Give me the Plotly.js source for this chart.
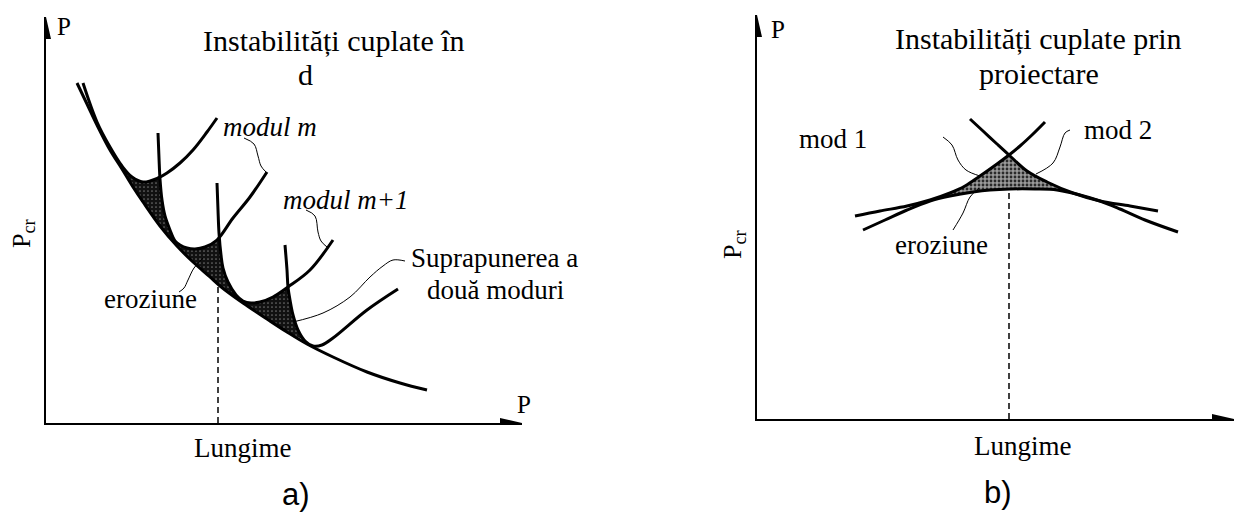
<!DOCTYPE html>
<html>
<head>
<meta charset="utf-8">
<script src="https://cdn.plot.ly/plotly-3.0.1.min.js"></script>
<style>
  html, body { margin: 0; padding: 0; background: #ffffff; }
  #chart { width: 1234px; height: 513px; }
</style>
</head>
<body>
<div id="chart"></div>
<script>
// ---------- Panel a) : instabilities coupled in design, modes m, m+1, ... ----------
// Lower bound of the coupled buckling load (eroded envelope)
const envelopeX = [31, 41, 51, 64, 76, 87, 97, 114, 131, 147, 164, 174, 197, 221, 241, 261, 287, 321, 354, 381];
const envelopeY = [340, 319, 298, 273, 254, 236, 221, 197, 177, 161, 146, 137, 120, 104, 91, 79, 66, 51, 40, 33];

// Individual buckling modes (steep branch, minimum, rising branch)
const mode1X = [37, 51, 64, 76, 86, 97, 112, 121, 134, 147, 161, 171];
const mode1Y = [340, 301, 276, 257, 246, 241, 245, 250, 260, 273, 291, 305];
const mode2X = [112, 113, 114, 116, 119, 124, 129, 134, 141, 149, 159, 171, 187, 204, 221];
const mode2Y = [290, 265, 244, 223, 207, 193, 182, 178, 175, 174, 176, 183, 205, 226, 251];
const mode3X = [171, 172, 173, 175, 177, 182, 190, 197, 205, 214, 227, 242, 264, 287];
const mode3Y = [240, 213, 190, 168, 155, 141, 128, 122, 120, 121, 126, 136, 153, 183];
const mode4X = [239, 241, 242, 244, 247, 252, 259, 267, 276, 287, 321, 352];
const mode4Y = [178, 153, 136, 123, 108, 93, 82, 77, 78, 85, 113, 134];

// Erosion zones between two neighbouring modes and the envelope
const erosionA1X = [76, 86, 97, 106, 113, 116, 119, 124, 130, 114, 97, 87, 76];
const erosionA1Y = [257, 246, 241, 242, 245, 223, 207, 193, 179, 197, 221, 236, 254];
const erosionA2X = [130, 134, 141, 149, 159, 173, 175, 177, 182, 190, 196, 174, 164, 147, 131];
const erosionA2Y = [179, 178, 175, 174, 176, 184, 168, 155, 141, 128, 121, 137, 146, 161, 177];
const erosionA3X = [196, 205, 214, 227, 242, 244, 247, 252, 258, 241, 221, 209, 197];
const erosionA3Y = [121, 120, 121, 126, 136, 123, 108, 93, 83, 91, 104, 112, 120];

// Leader lines of the labels
const leaderModulMX = [198, 208, 212, 215, 220];
const leaderModulMY = [285, 279, 267, 257, 251];
const leaderModulM1X = [260, 269, 272, 275, 281];
const leaderModulM1Y = [213, 207, 191, 182, 176];
const leaderOverlapX = [359, 347, 337, 324, 304, 277, 247];
const leaderOverlapY = [162, 163, 157, 146, 126, 110, 101];
const leaderErosionAX = [133, 138, 142, 148, 157];
const leaderErosionAY = [131, 135, 143, 155, 165];

// Length at which the modes interact
const dashedAX = [172, 172];
const dashedAY = [0, 137];

// ---------- Panel b) : instabilities coupled by design ----------
const mod1X = [98, 123, 150, 173, 193, 208, 223, 240, 252, 263, 276, 288];
const mod1Y = [203, 208, 213, 219, 226, 233, 243, 255, 264, 273, 285, 297];
const mod2X = [213, 226, 240, 252, 270, 290, 316, 343, 373, 401];
const mod2Y = [300, 288, 275, 264, 248, 237, 226, 218, 213, 208];
const humpX = [106, 128, 150, 173, 193, 216, 233, 253, 278, 300, 323, 343, 363, 388, 421];
const humpY = [189, 199, 209, 218, 223, 227, 229, 230, 230, 229, 224, 218, 210, 199, 187];

const erosionBX = [252, 240, 223, 208, 193, 183, 193, 216, 233, 253, 278, 300, 323, 335, 316, 290, 270, 252];
const erosionBY = [264, 255, 243, 233, 226, 222, 223, 227, 229, 230, 230, 229, 224, 221, 226, 237, 248, 264];

const leaderMod1X = [186, 195, 201, 209, 223];
const leaderMod1Y = [282, 274, 259, 249, 243];
const leaderMod2X = [313, 308, 303, 296, 279];
const leaderMod2Y = [289, 286, 272, 256, 245];
const leaderErosionBX = [196, 206, 213, 222];
const leaderErosionBY = [189, 206, 222, 231];

const dashedBX = [252, 252];
const dashedBY = [0, 230];

// Axis extents (arrow tips) in data units
const axisA = { xMax: 476, yMax: 406 };
const axisB = { xMax: 477, yMax: 404 };

// ---------- drawing ----------
const W = 1234, H = 513;
const serif = 'Liberation Serif, Times New Roman, serif';
const sans = 'Liberation Sans, Arial, sans-serif';

function curve(x, y, xa, ya, width) {
  return { x: x, y: y, xaxis: xa, yaxis: ya, type: 'scatter', mode: 'lines',
           line: { color: '#000', width: width, shape: 'spline', smoothing: 1 },
           hoverinfo: 'skip', showlegend: false };
}
function leader(x, y, xa, ya) {
  return curve(x, y, xa, ya, 1);
}
function dashed(x, y, xa, ya) {
  return { x: x, y: y, xaxis: xa, yaxis: ya, type: 'scatter', mode: 'lines',
           line: { color: '#000', width: 1.5, dash: '6px,4px' },
           hoverinfo: 'skip', showlegend: false };
}
function zone(x, y, xa, ya, bg, fg, solidity) {
  return { x: x, y: y, xaxis: xa, yaxis: ya, type: 'scatter', mode: 'lines',
           fill: 'toself', fillcolor: bg,
           fillpattern: { shape: '.', bgcolor: bg, fgcolor: fg, size: 4, solidity: solidity },
           line: { width: 0 }, hoverinfo: 'skip', showlegend: false };
}

const traces = [
  zone(erosionA1X, erosionA1Y, 'x', 'y', '#111111', '#6e6e6e', 0.15),
  zone(erosionA2X, erosionA2Y, 'x', 'y', '#111111', '#6e6e6e', 0.15),
  zone(erosionA3X, erosionA3Y, 'x', 'y', '#111111', '#6e6e6e', 0.15),
  dashed(dashedAX, dashedAY, 'x', 'y'),
  leader(leaderModulMX, leaderModulMY, 'x', 'y'),
  leader(leaderModulM1X, leaderModulM1Y, 'x', 'y'),
  leader(leaderOverlapX, leaderOverlapY, 'x', 'y'),
  leader(leaderErosionAX, leaderErosionAY, 'x', 'y'),
  curve(envelopeX, envelopeY, 'x', 'y', 3),
  curve(mode1X, mode1Y, 'x', 'y', 3),
  curve(mode2X, mode2Y, 'x', 'y', 3),
  curve(mode3X, mode3Y, 'x', 'y', 3),
  curve(mode4X, mode4Y, 'x', 'y', 3),

  zone(erosionBX, erosionBY, 'x2', 'y2', '#9a9a9a', '#2a2a2a', 0.4),
  dashed(dashedBX, dashedBY, 'x2', 'y2'),
  leader(leaderMod1X, leaderMod1Y, 'x2', 'y2'),
  leader(leaderMod2X, leaderMod2Y, 'x2', 'y2'),
  leader(leaderErosionBX, leaderErosionBY, 'x2', 'y2'),
  curve(humpX, humpY, 'x2', 'y2', 3),
  curve(mod1X, mod1Y, 'x2', 'y2', 3),
  curve(mod2X, mod2Y, 'x2', 'y2', 3)
];

// pixel position -> paper fraction
const px = v => v / W;
const py = v => 1 - v / H;

function axisStyle(domain, range, anchor) {
  return { domain: domain, range: range, anchor: anchor, fixedrange: true,
           showline: true, linecolor: '#000', linewidth: 2,
           showgrid: false, zeroline: false, showticklabels: false, ticks: '' };
}

function label(text, x, y, size, opts) {
  return Object.assign({ text: text, x: px(x), y: py(y), xref: 'paper', yref: 'paper',
           xanchor: 'center', yanchor: 'middle', showarrow: false,
           font: { family: serif, size: size, color: '#000' } }, opts || {});
}

function arrowX(xa, ya, tip) {
  return { type: 'path', xref: xa, yref: ya, xsizemode: 'pixel', ysizemode: 'pixel',
           xanchor: tip, yanchor: 0, path: 'M0,0 L-22,5 L-22,-5 Z',
           fillcolor: '#000', line: { width: 0 } };
}
function arrowY(xa, ya, tip) {
  return { type: 'path', xref: xa, yref: ya, xsizemode: 'pixel', ysizemode: 'pixel',
           xanchor: 0, yanchor: tip, path: 'M0,0 L-5,-22 L5,-22 Z',
           fillcolor: '#000', line: { width: 0 } };
}

const layout = {
  width: W, height: H,
  margin: { l: 0, r: 0, t: 0, b: 0, pad: 0 },
  paper_bgcolor: '#ffffff', plot_bgcolor: 'rgba(0,0,0,0)',
  showlegend: false,
  xaxis:  axisStyle([px(46), px(522)], [0, axisA.xMax], 'y'),
  yaxis:  axisStyle([py(423), py(17)], [0, axisA.yMax], 'x'),
  xaxis2: axisStyle([px(757), 1], [0, axisB.xMax], 'y2'),
  yaxis2: axisStyle([py(419), py(15)], [0, axisB.yMax], 'x2'),
  shapes: [
    arrowX('x', 'y', axisA.xMax), arrowY('x', 'y', axisA.yMax),
    arrowX('x2', 'y2', axisB.xMax), arrowY('x2', 'y2', axisB.yMax)
  ],
  annotations: [
    label('Instabilități cuplate în', 334, 40, 30),
    label('d', 305, 74, 30),
    label('P', 64, 26, 25),
    label('P', 524, 404, 25),
    label('P<sub>cr</sub>', 23, 234, 26, { textangle: -90 }),
    label('<i>modul m</i>', 270, 127, 27),
    label('<i>modul m+1</i>', 345, 200, 27),
    label('Suprapunerea a', 494, 258, 27),
    label('două moduri', 495, 290, 27),
    label('eroziune', 150, 299, 27),
    label('Lungime', 242, 448, 27),
    label('a)', 296, 494, 31, { font: { family: sans, size: 31, color: '#000' } }),

    label('Instabilități cuplate prin', 1038, 38, 30),
    label('proiectare', 1039, 73, 30),
    label('P', 778, 29, 25),
    label('P<sub>cr</sub>', 734, 245, 26, { textangle: -90 }),
    label('mod 1', 833, 139, 27),
    label('mod 2', 1118, 130, 27),
    label('eroziune', 941, 245, 27),
    label('Lungime', 1022, 446, 27),
    label('b)', 998, 492, 31, { font: { family: sans, size: 31, color: '#000' } })
  ]
};

Plotly.newPlot('chart', traces, layout, { staticPlot: true, displayModeBar: false });
</script>
</body>
</html>
